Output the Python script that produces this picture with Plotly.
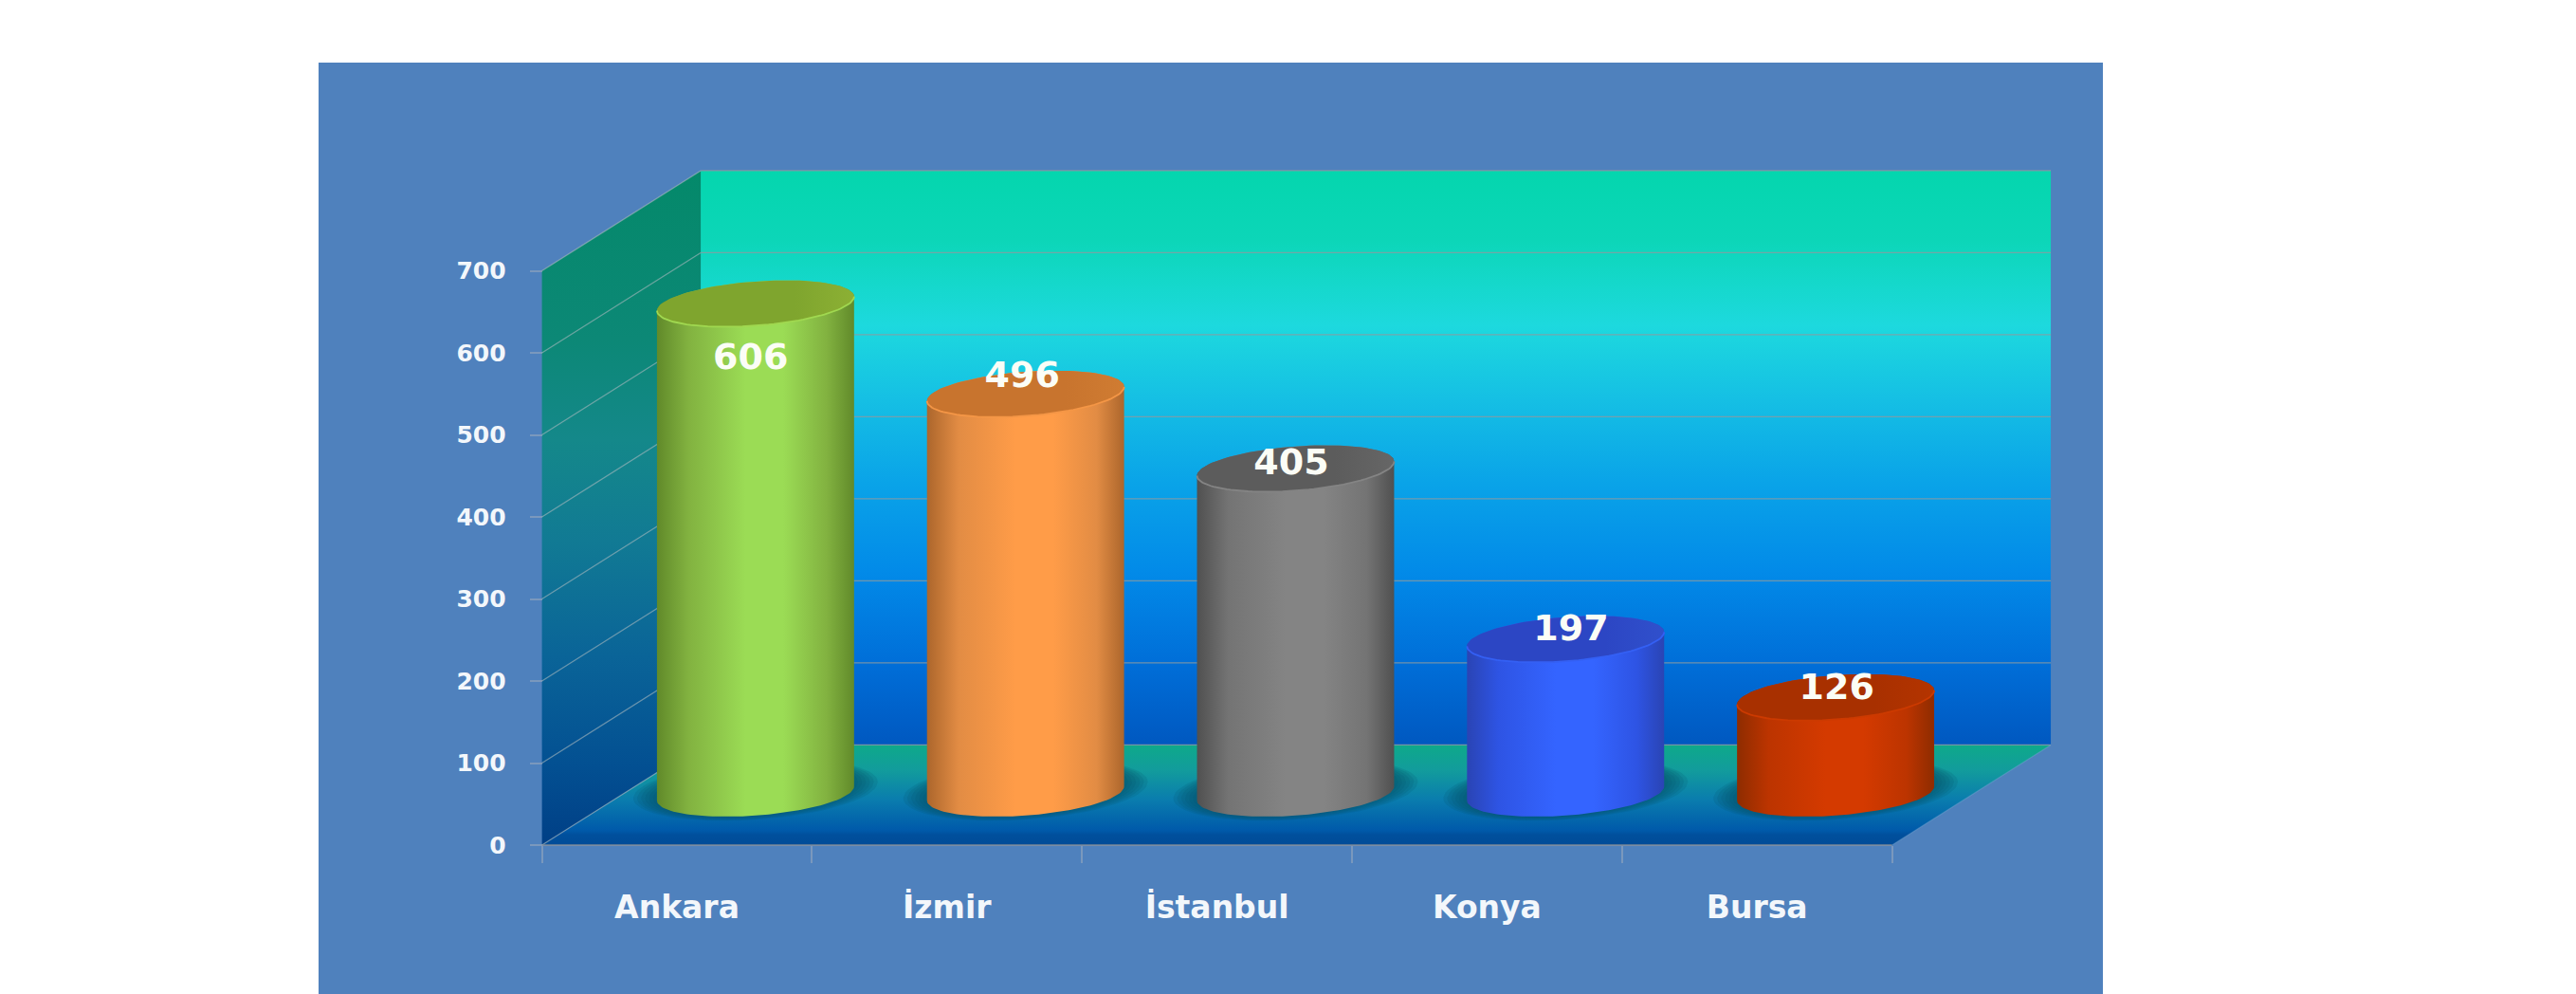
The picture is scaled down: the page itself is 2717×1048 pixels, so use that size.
import numpy as np
import plotly.graph_objects as go

categories = ["Ankara", "İzmir", "İstanbul", "Konya", "Bursa"]
values = [606, 496, 405, 197, 126]
y_ticks = [0, 100, 200, 300, 400, 500, 600, 700]

label_x_shift = [-0.018, -0.012, -0.016, 0.02, 0.004]
label_y_shift = [-15, 73, 58, 64, 63]

side_colors = ["#618a2a", "#ac662c", "#505050", "#2a44b4", "#8e2c00"]
mid_colors = ["#82b240", "#e28c44", "#747474", "#2e54e4", "#bc3400"]
bright_colors = ["#9bdc55", "#ff9c48", "#848484", "#3464ff", "#d43a00"]
top_colors = ["#7fa52e", "#c8742e", "#5c5c5c", "#2c46c4", "#a83000"]
top_light = ["#8cb034", "#d07c32", "#666666", "#3050cc", "#b43400"]
rim_colors = ["#a0d850", "#f49646", "#848484", "#3460f4", "#cc3a00"]

PANEL = "#4f81bd"
FONT = "DejaVu Sans"
TEXT = "#f3f7fb"

W, H = 2717, 1048
PX_L, PX_R, PX_T = 336, 2218, 66
PX_X0, PX_CAT = 714.0, 284.8
PX_Y0, PX_UNIT = 891.0, 605.5 / 700

xmin = (PX_L - PX_X0) / PX_CAT
xmax = (PX_R - PX_X0) / PX_CAT
ymin = (PX_Y0 - H) / PX_UNIT
ymax = (PX_Y0 - PX_T) / PX_UNIT

DX, DY = 0.588, 122.0
L, R = -0.5, 4.5
TOP = y_ticks[-1]

fig = go.Figure()


def poly(xs, ys, color=None, grad=None):
    kw = dict(x=xs, y=ys, mode="lines", fill="toself", hoverinfo="skip", showlegend=False,
              line=dict(width=0, color="rgba(0,0,0,0)"))
    if grad:
        kw["fillgradient"] = grad
        kw["fillcolor"] = "rgba(0,0,0,0)"
    else:
        kw["fillcolor"] = color
    fig.add_trace(go.Scatter(**kw))


def seg(xs, ys, color, width=1.3):
    fig.add_trace(go.Scatter(x=xs, y=ys, mode="lines", hoverinfo="skip", showlegend=False,
                             line=dict(color=color, width=width)))


# back wall
poly([L + DX, R + DX, R + DX, L + DX], [DY, DY, TOP + DY, TOP + DY],
     grad=dict(type="vertical", start=TOP + DY, stop=DY, colorscale=[
         [0.0, "#04d6ae"], [0.12, "#0cd6b8"], [0.20, "#15d8cc"], [0.27, "#1dd9de"], [0.40, "#15bfe4"],
         [0.54, "#0aa4e8"], [0.70, "#028ae8"], [0.86, "#006ed8"], [1.0, "#0058c0"]]))
# left wall
poly([L, L + DX, L + DX, L], [0, DY, TOP + DY, TOP],
     grad=dict(type="vertical", start=TOP + DY, stop=0, colorscale=[
         [0.0, "#04896a"], [0.25, "#0c8876"], [0.40, "#14888a"], [0.55, "#117a94"],
         [0.72, "#0a6498"], [0.88, "#035092"], [1.0, "#003f86"]]))
# floor
poly([L, R, R + DX, L + DX], [0, 0, DY, DY],
     grad=dict(type="vertical", start=DY, stop=0, colorscale=[
         [0.0, "#0ea98a"], [0.25, "#129c9c"], [0.55, "#0a7cae"], [0.85, "#005aaa"],
         [0.90, "#004f9c"], [1.0, "#004c98"]]))

# grid
for v in y_ticks:
    seg([L, L + DX], [v, v + DY], "rgba(170,185,190,0.6)")
    seg([L + DX, R + DX], [v + DY, v + DY], "rgba(140,155,160,0.8)")
seg([L, R], [0, 0], "rgba(150,150,150,0.8)")
seg([R, R + DX], [0, DY], "rgba(120,170,210,0.4)")

# cylinders
A = 0.365
B = 27.0
S = 8.65
TOP_DROP = 9.0
BASE_Y = DY / 2 + 2.0
OFF_X = DX / 2 - 0.003


def ell(cx, cy, t, a=A, b=B, s=S):
    return cx + a * np.cos(t), cy + b * np.sin(t) + s * np.cos(t)


for i, v in enumerate(values):
    cx = i + OFF_X
    # soft shadow
    for f, h in [(1.24, 36), (1.20, 35), (1.16, 34), (1.12, 33), (1.08, 32), (1.04, 31)]:
        t = np.linspace(0, 2 * np.pi, 80)
        sx, sy = ell(cx, BASE_Y + 4, t, A * f, h, 10)
        poly(sx, sy, color="rgba(8,85,105,0.17)")
    t_low = np.linspace(np.pi, 2 * np.pi, 60)
    t_up = np.linspace(0, np.pi, 60)
    top_y = BASE_Y + v - TOP_DROP
    bx, by = ell(cx, BASE_Y, t_low)
    ux, uy = ell(cx, top_y, t_up)
    poly(np.r_[bx, ux], np.r_[by, uy],
         grad=dict(type="horizontal", start=cx - A, stop=cx + A, colorscale=[
             [0.0, side_colors[i]], [0.16, mid_colors[i]], [0.45, bright_colors[i]],
             [0.64, bright_colors[i]], [0.86, mid_colors[i]], [1.0, side_colors[i]]]))
    tt = np.linspace(0, 2 * np.pi, 120)
    tx, ty = ell(cx, top_y, tt)
    poly(tx, ty,
         grad=dict(type="horizontal", start=cx - A, stop=cx + A, colorscale=[
             [0.0, top_colors[i]], [0.7, top_colors[i]], [1.0, top_light[i]]]))
    rx, ry = ell(cx, top_y, t_low)
    seg(rx, ry, rim_colors[i], 1.8)

# value labels
fig.add_trace(go.Scatter(
    x=[i + OFF_X + label_x_shift[i] for i in range(len(values))],
    y=[v + s for v, s in zip(values, label_y_shift)],
    mode="text", text=[str(v) for v in values], textposition="middle center",
    textfont=dict(family=FONT, size=38, color="#fbfdf6", weight="bold"),
    hoverinfo="skip", showlegend=False))

fig.update_layout(
    width=W, height=H, autosize=False,
    margin=dict(l=PX_L, r=W - PX_R, t=PX_T, b=0, pad=0),
    paper_bgcolor="#ffffff", plot_bgcolor=PANEL, showlegend=False,
    xaxis=dict(
        range=[xmin, xmax], domain=[0, 1], anchor="free",
        position=(0 - ymin) / (ymax - ymin),
        showgrid=False, zeroline=False, showline=False, fixedrange=True,
        tickmode="array", tickvals=list(range(len(categories))), ticktext=categories,
        ticks="outside", ticklen=36, tickcolor="rgba(0,0,0,0)",
        tickfont=dict(family=FONT, size=33, color=TEXT, weight="bold"),
        minor=dict(ticks="outside", ticklen=18, tickwidth=1.5,
                   tickcolor="rgba(165,175,190,0.5)", tickmode="array",
                   tickvals=[k - 0.5 for k in range(len(categories) + 1)], showgrid=False),
    ),
    yaxis=dict(
        range=[ymin, ymax], domain=[0, 1], anchor="free",
        position=(L - xmin) / (xmax - xmin),
        showgrid=False, zeroline=False, showline=False, fixedrange=True,
        tickmode="array", tickvals=y_ticks, ticks="outside", ticklen=13, tickwidth=1.5,
        tickcolor="rgba(165,175,190,0.5)", ticklabelstandoff=20,
        tickfont=dict(family=FONT, size=25, color=TEXT, weight="bold"),
    ),
)

fig.write_html("out.html", post_script="document.body.style.margin='0';",
               config=dict(displayModeBar=False))
